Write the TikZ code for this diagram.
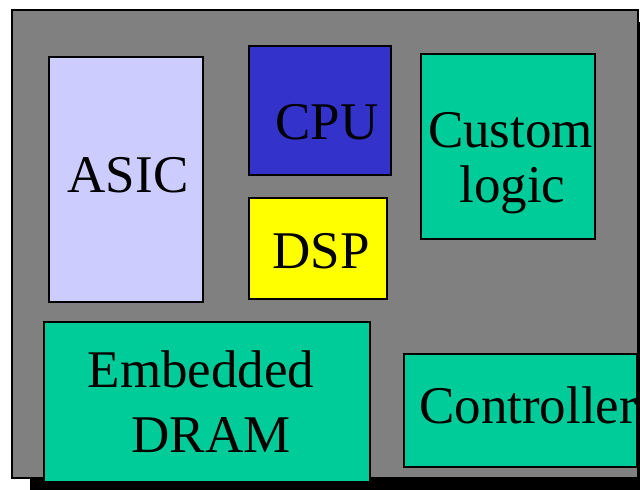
\documentclass[tikz,border=0pt]{standalone}
\usepackage{fontspec}
\setmainfont{Liberation Serif}
\definecolor{asicc}{HTML}{CCCCFF}
\definecolor{cpuc}{HTML}{3333CC}
\definecolor{dspc}{HTML}{FFFF00}
\definecolor{greenc}{HTML}{00CC99}
\definecolor{grayc}{HTML}{808080}
\begin{document}
\begin{tikzpicture}[x=1pt,y=-1pt,
  blk/.style={draw=black,line width=2pt,inner sep=0pt},
  lbl/.style={inner sep=0pt,anchor=base,font=\fontsize{53}{60}\selectfont}]
\useasboundingbox (0,0) rectangle (640,490);
\path[fill=black] (30,22) rectangle (660,495);
\path[blk,fill=grayc] (11.5,9.5) rectangle (637.5,477.5);
\node[blk,fill=asicc,minimum width=154pt,minimum height=245pt] (asic) at (125.5,179.5) {};
\node[blk,fill=cpuc,minimum width=142pt,minimum height=129pt] (cpu) at (319.5,110) {};
\node[blk,fill=dspc,minimum width=138pt,minimum height=101pt] (dsp) at (317.5,248) {};
\node[blk,fill=greenc,minimum width=174pt,minimum height=185pt] (custom) at (507.5,146) {};
\node[blk,fill=greenc,minimum width=326pt,minimum height=160pt] (dram) at (207,401.5) {};
\node[blk,fill=greenc,minimum width=233pt,minimum height=113pt] (ctrl) at (520.5,410) {};
\node[lbl] (tasic) at (128,192) {ASIC};
\node[lbl] (tcpu) at (327,139) {CPU};
\node[lbl] (tdsp) at (321,268) {DSP};
\node[lbl] (tcustom) at (510.5,147) {Custom};
\node[lbl] (tlogic) at (512.5,202) {logic};
\node[lbl] (temb) at (201,387) {Embedded};
\node[lbl] (tdram) at (211,452) {DRAM};
\node[lbl,anchor=base west] (tctrl) at (419,423) {Controller};
\end{tikzpicture}
\end{document}
